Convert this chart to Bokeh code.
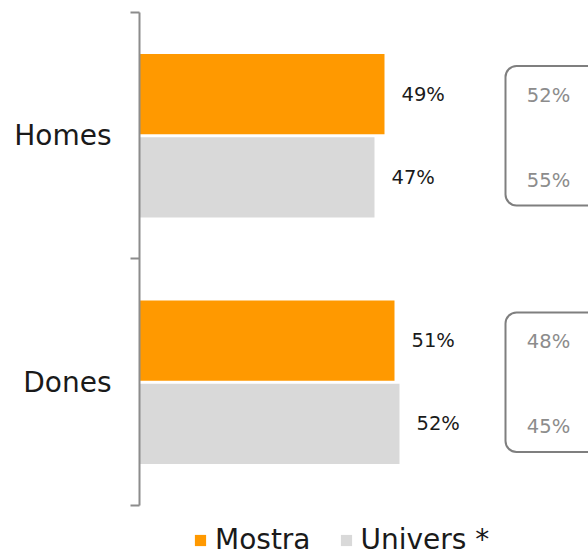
from bokeh.plotting import figure
from bokeh.models import ColumnDataSource, FixedTicker, Legend, LegendItem
from bokeh.core.properties import value
from bokeh.embed import file_html
from bokeh.resources import INLINE

# ---- data ----
categories = ["Homes", "Dones"]
mostra = [49, 51]
univers = [47, 52]
ref_top = [52, 48]      # boxed values, upper line
ref_bottom = [55, 45]   # boxed values, lower line
series_names = ["Mostra", "Univers *"]

FONT = value("DejaVu Sans")
ORANGE = "#FF9900"
GREY = "#D9D9D9"

n = len(categories)
centers = [n - i - 0.5 for i in range(n)]
bar_h = 0.325
off = 0.169

src_m = ColumnDataSource(dict(y=[c + off for c in centers], v=mostra,
                              lab=[f"{v}%" for v in mostra]))
src_u = ColumnDataSource(dict(y=[c - off for c in centers], v=univers,
                              lab=[f"{v}%" for v in univers]))
src_box = ColumnDataSource(dict(top=[c + 0.283 for c in centers],
                                bottom=[c - 0.283 for c in centers],
                                yt=[c + 0.165 for c in centers],
                                yb=[c - 0.18 for c in centers],
                                t1=[f"{v}%" for v in ref_top],
                                t2=[f"{v}%" for v in ref_bottom]))

p = figure(width=588, height=557, x_range=(0, 89.8), y_range=(-0.211, n),
           output_backend="svg", toolbar_location=None,
           min_border_left=139, min_border_right=0, min_border_top=12,
           min_border_bottom=0)
p.outline_line_color = None
p.xgrid.visible = False
p.ygrid.visible = False
p.xaxis.visible = False
p.background_fill_color = "white"
p.border_fill_color = "white"

ax = p.yaxis[0]
ax.bounds = (0, n)
ax.ticker = FixedTicker(ticks=centers, minor_ticks=[float(i) for i in range(n + 1)])
ax.major_label_overrides = {c: cat for c, cat in zip(centers, categories)}
ax.major_tick_out = 0
ax.major_tick_in = 0
ax.minor_tick_out = 9
ax.minor_tick_in = 0
ax.minor_tick_line_color = "#8C8C8C"
ax.minor_tick_line_width = 2
ax.axis_line_color = "#8C8C8C"
ax.axis_line_width = 2
ax.major_label_standoff = 19
ax.major_label_text_font = "DejaVu Sans"
ax.major_label_text_font_size = "28px"
ax.major_label_text_color = "#1A1A1A"

r_m = p.hbar(y="y", left=0, right="v", height=bar_h, source=src_m,
             fill_color=ORANGE, line_color=None)
r_u = p.hbar(y="y", left=0, right="v", height=bar_h, source=src_u,
             fill_color=GREY, line_color=None)

for s in (src_m, src_u):
    p.text(x="v", y="y", text="lab", source=s, x_offset=17,
           text_font=FONT, text_font_size="19.5px", text_color="#1A1A1A",
           text_baseline="middle", text_align="left")

p.quad(left=73.2, right=95, top="top", bottom="bottom", source=src_box,
       fill_color=None, line_color="#7F7F7F", line_width=2, border_radius=11)
p.text(x=81.8, y="yt", text="t1", source=src_box, text_font=FONT,
       text_font_size="19.5px", text_color="#8C8C8C", text_align="center",
       text_baseline="middle")
p.text(x=81.8, y="yb", text="t2", source=src_box, text_font=FONT,
       text_font_size="19.5px", text_color="#8C8C8C", text_align="center",
       text_baseline="middle")

legend = Legend(items=[LegendItem(label=series_names[0], renderers=[r_m]),
                       LegendItem(label=series_names[1], renderers=[r_u])],
                orientation="horizontal", location=(54, 1))
legend.label_text_font = "DejaVu Sans"
legend.label_text_font_size = "28px"
legend.label_text_color = "#1A1A1A"
legend.glyph_width = 14
legend.glyph_height = 14
legend.label_standoff = 8
legend.spacing = 28
legend.padding = 0
legend.margin = 0
legend.border_line_color = None
legend.background_fill_alpha = 0
p.add_layout(legend)

open("out.html", "w").write(file_html(p, INLINE))
